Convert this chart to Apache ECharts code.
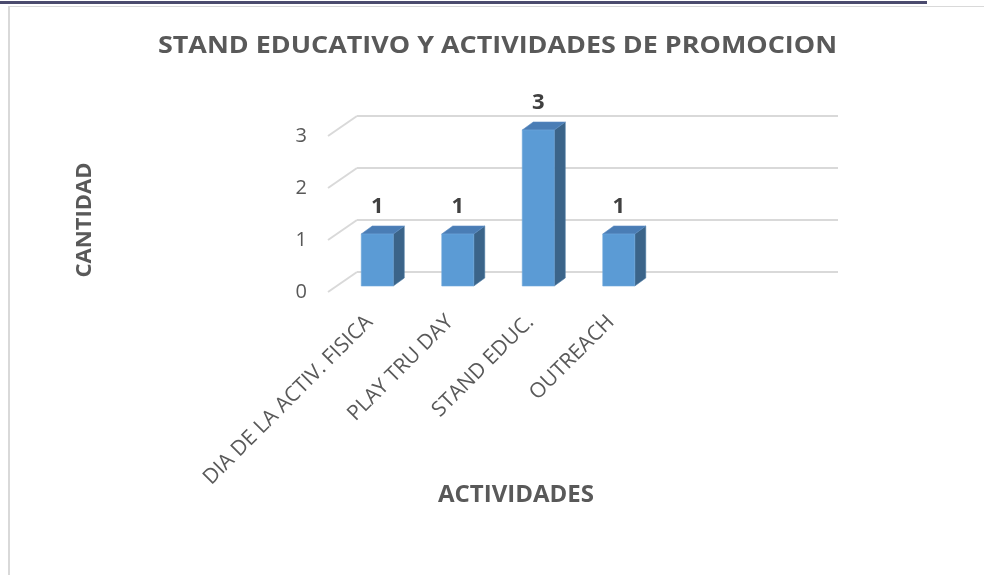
<!DOCTYPE html>
<html>
<head>
<meta charset="utf-8">
<script src="https://cdn.jsdelivr.net/npm/echarts@6/dist/echarts.min.js"></script>
<style>
html,body{margin:0;padding:0;background:#fff;}
#chart{width:984px;height:575px;}
</style>
</head>
<body>
<div id="chart"></div>
<script>
const categories = ['DIA DE LA ACTIV. FISICA', 'PLAY TRU DAY', 'STAND EDUC.', 'OUTREACH'];
const values = [1, 1, 3, 1];
const yTicks = [0, 1, 2, 3];

const FONT = '"Open Sans", sans-serif';
const chart = echarts.init(document.getElementById('chart'), null, {renderer: 'canvas'});

const barW = 32, depthX = 11, depthY = -8;

chart.setOption({
  animation: false,
  backgroundColor: '#ffffff',
  graphic: [
    {type: 'rect', shape: {x: 0, y: 1, width: 927, height: 3}, style: {fill: '#4b4b6e'}, silent: true},
    {type: 'rect', shape: {x: 8, y: 6, width: 976, height: 1}, style: {fill: '#d9d9d9'}, silent: true},
    {type: 'rect', shape: {x: 8, y: 6, width: 2, height: 569}, style: {fill: '#d9d9d9'}, silent: true},
    {type: 'text', x: 497.5, y: 46, scaleX: 1.17,
      style: {text: 'STAND EDUCATIVO Y ACTIVIDADES DE PROMOCION', fontFamily: FONT, fontWeight: 'bold', fontSize: 23, fill: '#595959', align: 'center', verticalAlign: 'middle'}},
    {type: 'text', rotation: Math.PI / 2, x: 85, y: 220,
      style: {text: 'CANTIDAD', fontFamily: FONT, fontWeight: 'bold', fontSize: 22, fill: '#595959', align: 'center', verticalAlign: 'middle'}},
    {type: 'text', x: 516, y: 495,
      style: {text: 'ACTIVIDADES', fontFamily: FONT, fontWeight: 'bold', fontSize: 24, fill: '#595959', align: 'center', verticalAlign: 'middle'}}
  ],
  grid: [
    {left: 337, width: 322, top: 130, height: 156},
    {left: 357, width: 481, top: 116, height: 156},
    {left: 328, width: 29, top: 136, height: 156}
  ],
  xAxis: [
    {type: 'category', gridIndex: 0, data: categories,
      axisLine: {show: false}, axisTick: {show: false},
      axisLabel: {rotate: 45, margin: 25, padding: [0, 11, 0, 0], interval: 0, fontFamily: FONT, fontSize: 21, color: '#595959'}},
    {type: 'value', gridIndex: 1, min: 0, max: 1, show: false},
    {type: 'value', gridIndex: 2, min: 0, max: 1, show: false}
  ],
  yAxis: [
    {type: 'value', gridIndex: 0, min: 0, max: 3, interval: 1, show: false},
    {type: 'value', gridIndex: 1, min: 0, max: 3, interval: 1,
      axisLine: {show: false}, axisTick: {show: false}, axisLabel: {show: false},
      splitLine: {show: true, lineStyle: {color: '#d9d9d9', width: 2}}},
    {type: 'value', gridIndex: 2, min: 0, max: 3, interval: 1,
      axisLine: {show: false}, axisTick: {show: false}, splitLine: {show: false},
      axisLabel: {margin: 21, fontFamily: FONT, fontSize: 20, color: '#595959'}}
  ],
  series: [
    {
      type: 'custom', xAxisIndex: 2, yAxisIndex: 2, silent: true,
      data: yTicks.map(t => [0, t]),
      renderItem: function (params, api) {
        const v = api.value(1);
        const a = api.coord([0, v]);
        const b = api.coord([1, v]);
        return {type: 'line', shape: {x1: a[0], y1: a[1], x2: b[0], y2: b[1] - 20},
          style: {stroke: '#d9d9d9', lineWidth: 2}};
      }
    },
    {
      type: 'custom', xAxisIndex: 0, yAxisIndex: 0, silent: true,
      data: values.map((v, i) => [i, v]),
      renderItem: function (params, api) {
        const top = api.coord([api.value(0), api.value(1)]);
        const base = api.coord([api.value(0), 0]);
        const x0 = top[0] - barW / 2, x1 = top[0] + barW / 2;
        const yt = top[1], yb = base[1];
        return {
          type: 'group',
          children: [
            {type: 'polygon', shape: {points: [[x1, yt], [x1 + depthX, yt + depthY], [x1 + depthX, yb + depthY], [x1, yb]]},
              style: {fill: '#3b6489', stroke: '#4a78a3', lineWidth: 0.6}},
            {type: 'polygon', shape: {points: [[x0, yt], [x1, yt], [x1 + depthX, yt + depthY], [x0 + depthX, yt + depthY]]},
              style: {fill: '#4a7db5', stroke: '#5a8cc2', lineWidth: 0.6}},
            {type: 'rect', shape: {x: x0, y: yt, width: barW, height: yb - yt},
              style: {fill: '#5b9bd5', stroke: '#6fa8dc', lineWidth: 0.6}},
            {type: 'text', x: top[0], y: yt - 27,
              style: {text: String(api.value(1)), fontFamily: FONT, fontWeight: 'bold', fontSize: 22, fill: '#404040', align: 'center', verticalAlign: 'middle'}}
          ]
        };
      }
    }
  ]
});
</script>
</body>
</html>
